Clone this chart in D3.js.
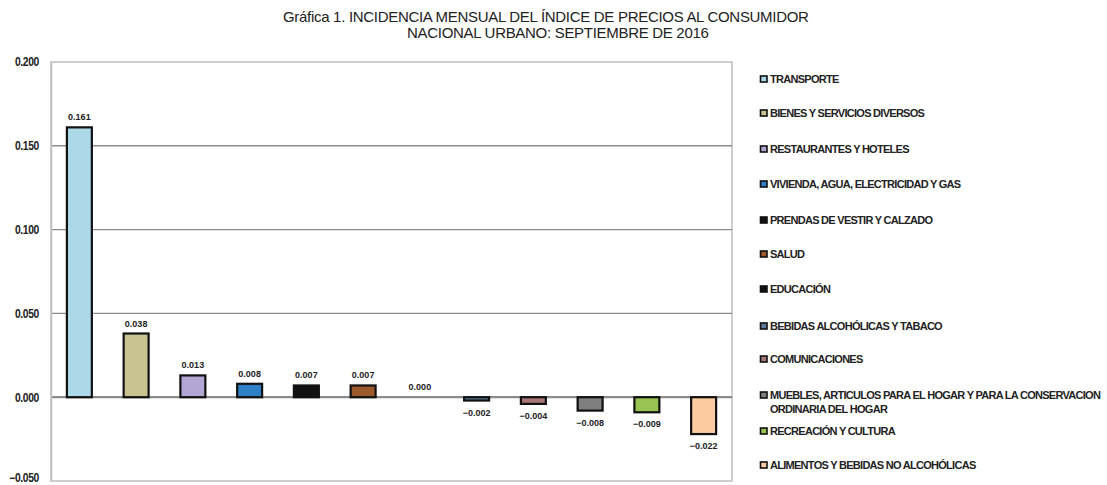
<!DOCTYPE html>
<html>
<head>
<meta charset="utf-8">
<script src="https://cdn.jsdelivr.net/npm/d3@7/dist/d3.min.js"></script>
<style>
  html, body { margin: 0; padding: 0; background: #fff; }
  svg { display: block; }
  text { font-family: "Liberation Sans", Arial, sans-serif; }
</style>
</head>
<body>
<svg id="chart" width="1107" height="485"></svg>
<script>
// Incidencia mensual por componente del INPC nacional urbano, septiembre 2016
const categories = [
  "TRANSPORTE",
  "BIENES Y SERVICIOS DIVERSOS",
  "RESTAURANTES Y HOTELES",
  "VIVIENDA, AGUA, ELECTRICIDAD Y GAS",
  "PRENDAS DE VESTIR Y CALZADO",
  "SALUD",
  "EDUCACIÓN",
  "BEBIDAS ALCOHÓLICAS Y TABACO",
  "COMUNICACIONES",
  "MUEBLES, ARTICULOS PARA EL HOGAR Y PARA LA CONSERVACION ORDINARIA DEL HOGAR",
  "RECREACIÓN Y CULTURA",
  "ALIMENTOS Y BEBIDAS NO ALCOHÓLICAS"
];
const values = [0.161, 0.038, 0.013, 0.008, 0.007, 0.007, 0.000, -0.002, -0.004, -0.008, -0.009, -0.022];
const colors = ["#acd9e8", "#c9c392", "#b3a6d4", "#2f7fc6", "#111111", "#9c5a2a",
                "#111111", "#5d7c9a", "#a87676", "#7f7f7f", "#98c552", "#fdcca0"];
const yTicks = [-0.05, 0, 0.05, 0.10, 0.15, 0.20];
const titleLines = [
  "Gráfica 1. INCIDENCIA MENSUAL DEL ÍNDICE DE PRECIOS AL CONSUMIDOR",
  "NACIONAL URBANO: SEPTIEMBRE DE 2016"
];
// legend labels, wrapped as they are printed
const legendLines = categories.map(c => c.startsWith("MUEBLES")
  ? ["MUEBLES, ARTICULOS PARA EL HOGAR Y PARA LA CONSERVACION", "ORDINARIA DEL HOGAR"]
  : [c]);

// axis labels are set in a condensed face; squeeze glyphs a little
function condense(sel, factor) {
  sel.each(function () {
    const w = this.getComputedTextLength();
    if (w > 0) d3.select(this).attr("textLength", w * factor).attr("lengthAdjust", "spacingAndGlyphs");
  });
}

const svg = d3.select("#chart");
const plot = { left: 51, right: 732, top: 62, bottom: 481 };

const x = d3.scaleBand().domain(categories).range([plot.left, plot.right]).paddingInner(0.56).paddingOuter(0.28);
const y = d3.scaleLinear().domain([-0.05, 0.20]).range([plot.bottom, plot.top]);
const fmt = d3.format(".3f");

// title
svg.selectAll("text.title").data(titleLines).join("text")
  .attr("class", "title")
  .attr("x", (d, i) => i === 0 ? 283 : 407).attr("y", (d, i) => 22 + i * 16)
  .attr("font-size", 15)
  .attr("letter-spacing", -0.3)
  .attr("fill", "#222")
  .text(d => d);

// plot frame
svg.append("rect")
  .attr("x", plot.left).attr("y", plot.top)
  .attr("width", plot.right - plot.left).attr("height", plot.bottom - plot.top)
  .attr("fill", "none").attr("stroke", "#c2c2c2").attr("stroke-width", 1.6);

// gridlines
svg.append("g").selectAll("line").data(yTicks.filter(t => t > -0.05 && t < 0.2)).join("line")
  .attr("x1", plot.left).attr("x2", plot.right)
  .attr("y1", d => y(d)).attr("y2", d => y(d))
  .attr("stroke", "#8c8c8c")
  .attr("stroke-width", d => d === 0 ? 2.2 : 1.4);

// y axis
const yAxis = d3.axisLeft(y).tickValues(yTicks).tickFormat(fmt).tickSize(0).tickPadding(12);
const gy = svg.append("g").attr("transform", `translate(${plot.left},0)`).call(yAxis);
gy.select(".domain").attr("stroke", "#c2c2c2").attr("stroke-width", 1.6);
gy.selectAll("text")
  .attr("font-family", "Liberation Sans, Arial, sans-serif")
  .attr("font-size", 12).attr("font-weight", "bold").attr("letter-spacing", -0.4)
  .attr("fill", "#222")
  .attr("dy", d => d === -0.05 ? "0.05em" : "0.32em")
  .call(condense, 0.86);

// bars
svg.append("g").selectAll("rect").data(values).join("rect")
  .attr("x", (d, i) => x(categories[i]))
  .attr("width", x.bandwidth())
  .attr("y", d => y(Math.max(0, d)))
  .attr("height", d => Math.abs(y(d) - y(0)))
  .attr("fill", (d, i) => colors[i])
  .attr("stroke", "#111")
  .attr("stroke-width", d => d === 0 ? 0 : 2.2);

// value labels
svg.append("g").selectAll("text").data(values).join("text")
  .attr("x", (d, i) => x(categories[i]) + x.bandwidth() / 2)
  .attr("y", d => d > 0 ? y(d) - 7 : (d === 0 ? y(0) - 7 : y(d) + 15))
  .attr("text-anchor", "middle")
  .attr("font-size", 9).attr("font-weight", "bold")
  .attr("fill", "#222")
  .text(d => fmt(d));

// legend
const legendY = [79, 113, 149, 184, 220, 254, 289, 326, 359, 395, 431, 465];
const lg = svg.append("g").selectAll("g").data(categories).join("g")
  .attr("transform", (d, i) => `translate(760,${legendY[i]})`);
lg.append("rect")
  .attr("x", 0.5).attr("y", -3).attr("width", 6.5).attr("height", 6)
  .attr("fill", (d, i) => colors[i]).attr("stroke", "#111").attr("stroke-width", 1.6);
lg.each(function (d, i) {
  d3.select(this).selectAll("text").data(legendLines[i]).join("text")
    .attr("x", 10).attr("y", (t, j) => 4 + j * 14)
    .attr("font-size", 11).attr("font-weight", "bold").attr("letter-spacing", -0.72)
    .attr("fill", "#222")
    .text(t => t);
});
</script>
</body>
</html>
